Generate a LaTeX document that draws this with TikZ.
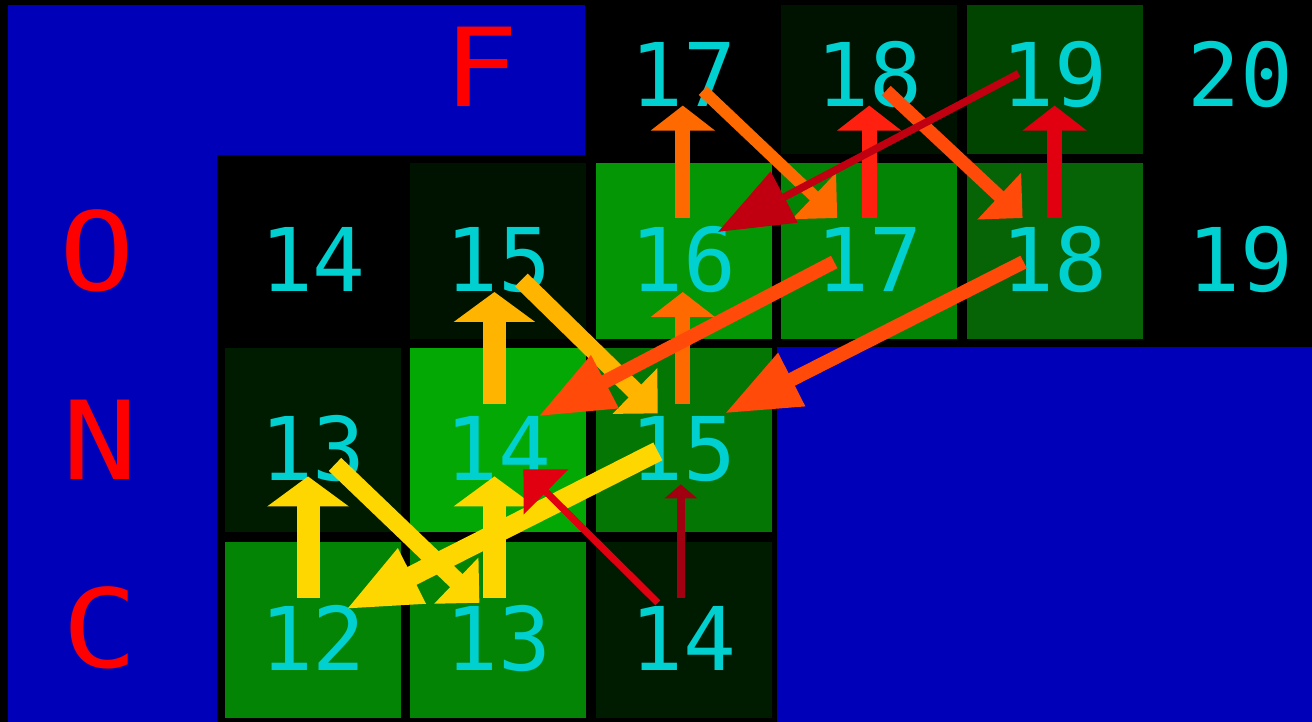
\documentclass[tikz,border=0pt]{standalone}
\usepackage{fontspec}
\usepackage{xcolor}
\usepackage{tikz}
\usetikzlibrary{arrows.meta,positioning}

\newfontfamily\numfont{DejaVu Sans Mono}
\newfontfamily\lblfont[FakeStretch=1.15]{DejaVu Sans Mono}

\definecolor{bgblue}{RGB}{0,0,185}
\definecolor{numcyan}{RGB}{0,208,208}
\definecolor{lblred}{RGB}{255,0,0}
% cell shades
\definecolor{shadeA}{RGB}{0,18,0}
\definecolor{shadeB}{RGB}{0,28,0}
\definecolor{shadeC}{RGB}{0,68,0}
\definecolor{shadeD}{RGB}{6,100,6}
\definecolor{shadeE}{RGB}{4,118,4}
\definecolor{shadeF}{RGB}{4,132,4}
\definecolor{shadeG}{RGB}{4,150,4}
\definecolor{shadeH}{RGB}{4,168,4}
% arrow colours
\definecolor{arrYellow}{RGB}{255,215,0}
\definecolor{arrAmber}{RGB}{255,180,0}
\definecolor{arrOrange}{RGB}{255,106,0}
\definecolor{arrOrangeRed}{RGB}{255,74,10}
\definecolor{arrRedHi}{RGB}{255,32,16}
\definecolor{arrRed}{RGB}{224,0,16}
\definecolor{arrDarkRed}{RGB}{192,0,16}
\definecolor{arrDarkerRed}{RGB}{160,0,16}

\begin{document}
\begin{tikzpicture}[x=0.1mm, y=-0.1mm, node distance=0.8mm,
  cell/.style={rectangle, minimum width=17.6mm, minimum height=17.6mm, inner sep=0pt,
    font=\numfont\fontsize{25}{30}\selectfont, text=numcyan, text height=23pt, text depth=0pt},
  tall/.style={minimum height=18.4mm},
  lbl/.style={inner sep=0pt, text=lblred, font=\lblfont\fontsize{31}{36}\selectfont},
  vthick/.style={line width=2.3mm, -{Triangle[length=3mm, width=8mm]}},
  vmid/.style={line width=1.5mm, -{Triangle[length=2.5mm, width=6.3mm]}},
  vthin/.style={line width=0.85mm, -{Triangle[length=1.4mm, width=3.2mm]}},
  dshort/.style={line width=#1, -{Triangle[length=3.2mm, width=6.2mm]}},
  dlong/.style={line width=#1, -{Triangle[length=7.5mm, width=5.6mm]}}]

  \useasboundingbox (0,0) rectangle (1312,722);
  \fill[black] (0,0) rectangle (1312,722);
  \fill[bgblue] (8,5) -- (585,5) -- (585,155) -- (217,155) -- (217,722) -- (8,722) -- cycle;
  \fill[bgblue] (777,347) rectangle (1312,722);

  \node [cell] (O14) at (313,251) {14};
  \node [cell, fill=shadeA, right=of O14] (O15) {15};
  \node [cell, fill=shadeG, right=of O15] (O16) {16};
  \node [cell, fill=shadeF, right=of O16] (O17) {17};
  \node [cell, fill=shadeD, right=of O17] (O18) {18};
  \node [cell, right=of O18] (O19) {19};

  \node [cell, above=of O16] (F17) {17};
  \node [cell, fill=shadeA, right=of F17] (F18) {18};
  \node [cell, fill=shadeC, right=of F18] (F19) {19};
  \node [cell, right=of F19] (F20) {20};

  \node [cell, tall, fill=shadeB, below=of O14] (N13) {13};
  \node [cell, tall, fill=shadeH, right=of N13] (N14) {14};
  \node [cell, tall, fill=shadeE, right=of N14] (N15) {15};

  \node [cell, fill=shadeF, below=of N13] (C12) {12};
  \node [cell, fill=shadeF, right=of C12] (C13) {13};
  \node [cell, fill=shadeB, right=of C13] (C14) {14};

  \fill[black] (0,0) rectangle (1312,5);

  \node [lbl] (lblF) at (481,67) {F};
  \node [lbl] (lblO) at (97,251) {O};
  \node [lbl] (lblN) at (100,440) {N};
  \node [lbl] (lblC) at (100,628) {C};

  % yellow
  \draw [vthick, arrYellow] ([shift={(-5,-32)}]C12.center) -- ([shift={(-5,36)}]N13.center);
  \draw [vthick, arrYellow] ([shift={(-4,-32)}]C13.center) -- ([shift={(-4,36)}]N14.center);
  \draw [dshort=1.8mm, arrYellow] ([shift={(22,24)}]N13.center) -- ([shift={(-19,-27)}]C13.center);
  \draw [dlong=2mm, arrYellow] ([shift={(-26,11)}]N15.center) -- ([shift={(32,-20)}]C12.center);
  % amber
  \draw [vthick, arrAmber] ([shift={(-4,-36)}]N14.center) -- ([shift={(-4,41)}]O15.center);
  \draw [dshort=1.8mm, arrAmber] ([shift={(23,29)}]O15.center) -- ([shift={(-26,-27)}]N15.center);
  % orange
  \draw [vmid, arrOrange] ([shift={(-1,-33)}]O16.center) -- ([shift={(-1,40)}]F17.center);
  \draw [dshort=1.2mm, arrOrange] ([shift={(19,25)}]F17.center) -- ([shift={(-32,-33)}]O17.center);
  \draw [vmid, arrOrange] ([shift={(-1,-36)}]N15.center) -- ([shift={(-1,41)}]O16.center);
  % orange-red
  \draw [dshort=1.3mm, arrOrangeRed] ([shift={(17,25)}]F18.center) -- ([shift={(-32,-33)}]O18.center);
  \draw [dlong=1.4mm, arrOrangeRed] ([shift={(-35,11)}]O17.center) -- ([shift={(40,-24)}]N14.center);
  \draw [dlong=1.4mm, arrOrangeRed] ([shift={(-31,11)}]O18.center) -- ([shift={(41,-27)}]N15.center);
  % red
  \draw [vmid, arrRedHi] ([shift={(0,-33)}]O17.center) -- ([shift={(0,40)}]F18.center);
  \draw [vmid, arrRed] ([shift={(0,-33)}]O18.center) -- ([shift={(0,40)}]F19.center);
  \draw [dshort=0.7mm, arrRed] ([shift={(-26,-27)}]C14.center) -- ([shift={(25,29)}]N14.center);
  % dark red
  \draw [dlong=0.75mm, arrDarkRed] ([shift={(-36,8)}]F19.center) -- ([shift={(34,-19)}]O16.center);
  \draw [vthin, arrDarkerRed] ([shift={(-3,-32)}]C14.center) -- ([shift={(-3,44)}]N15.center);
\end{tikzpicture}
\end{document}
